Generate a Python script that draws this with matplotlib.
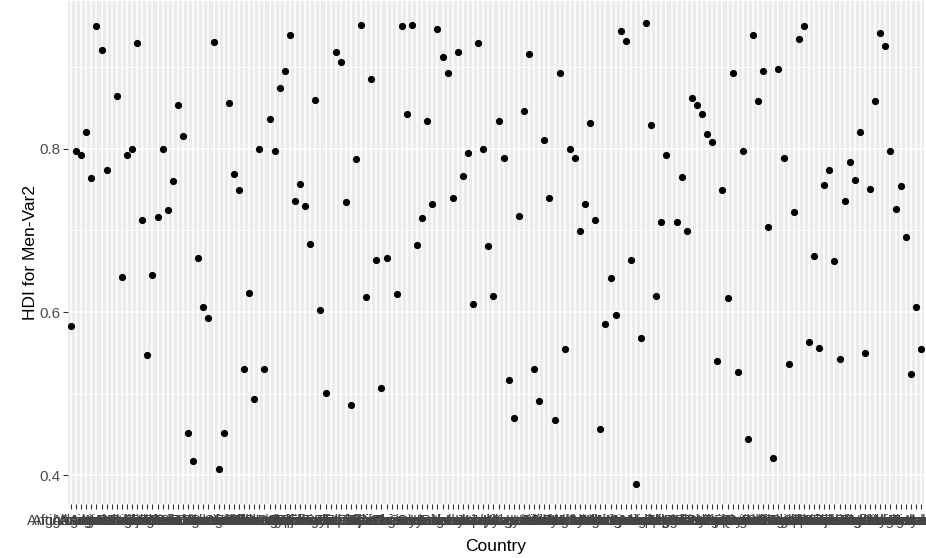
import numpy as np
import matplotlib
matplotlib.use("Agg")
import matplotlib.pyplot as plt
from matplotlib.ticker import MultipleLocator

# countries on the x axis (alphabetical, as in the source data)
countries = [
    "Afghanistan", "Albania", "Algeria", "Andorra", "Angola", "Antigua and Barbuda",
    "Argentina", "Armenia", "Australia", "Austria", "Azerbaijan", "Bahamas", "Bahrain",
    "Bangladesh", "Barbados", "Belarus", "Belgium", "Belize", "Benin", "Bhutan",
    "Bolivia", "Bosnia and Herzegovina", "Botswana", "Brazil", "Brunei Darussalam",
    "Bulgaria", "Burkina Faso", "Burundi", "Cabo Verde", "Cambodia", "Cameroon",
    "Canada", "Central African Republic", "Chad", "Chile", "China", "Colombia",
    "Comoros", "Congo", "Costa Rica", "Cote d'Ivoire", "Croatia", "Cuba", "Cyprus",
    "Czechia", "Denmark", "Djibouti", "Dominican Republic", "Ecuador", "Egypt",
    "El Salvador", "Equatorial Guinea", "Eritrea", "Estonia", "Eswatini", "Ethiopia",
    "Fiji", "Finland", "France", "Gabon", "Gambia", "Georgia", "Germany", "Ghana",
    "Greece", "Grenada", "Guatemala", "Guinea", "Guinea-Bissau", "Guyana", "Haiti",
    "Honduras", "Hungary", "Iceland", "India", "Indonesia", "Iran",
    "Iraq", "Ireland", "Israel", "Italy", "Jamaica", "Japan", "Jordan", "Kazakhstan",
    "Kenya", "Korea", "Kuwait", "Kyrgyzstan", "Lao PDR", "Latvia", "Lebanon",
    "Lesotho", "Liberia", "Libya", "Lithuania", "Luxembourg", "Madagascar", "Malawi",
    "Malaysia", "Maldives", "Mali", "Malta", "Mauritania", "Mauritius", "Mexico",
    "Moldova", "Mongolia", "Montenegro", "Morocco", "Mozambique", "Myanmar",
    "Namibia", "Nepal", "Netherlands", "New Zealand", "Nicaragua", "Niger", "Nigeria",
    "North Macedonia", "Norway", "Oman", "Pakistan", "Palestine", "Panama",
    "Papua New Guinea", "Paraguay", "Peru", "Philippines", "Poland", "Portugal",
    "Qatar", "Romania", "Russian Federation", "Rwanda", "Saint Lucia", "Samoa",
    "Saudi Arabia", "Senegal", "Serbia", "Sierra Leone", "Singapore", "Slovakia",
    "Slovenia", "South Africa", "Spain", "Sri Lanka", "Sudan", "Suriname", "Sweden",
    "Switzerland", "Tajikistan", "Tanzania", "Thailand", "Togo", "Tunisia", "Turkey",
    "Uganda", "Ukraine", "United Kingdom", "United States", "Uruguay", "Uzbekistan",
    "Venezuela", "Viet Nam", "Yemen", "Zambia", "Zimbabwe",
]

# HDI for men (Var2), nan = missing value
nan = np.nan
hdi_men = [
    0.583, 0.797, 0.792, 0.820, 0.764, 0.950, 0.921, 0.774, nan, 0.865,
    0.643, 0.792, 0.800, 0.929, 0.713, 0.547, 0.645, 0.717, 0.800, 0.725,
    0.761, 0.854, 0.816, 0.452, 0.418, 0.666, 0.606, 0.593, 0.931, 0.408,
    0.452, 0.856, 0.769, 0.749, 0.530, 0.624, 0.493, 0.800, 0.530, 0.836,
    0.797, 0.875, 0.895, 0.939, 0.736, 0.757, 0.730, 0.684, 0.860, 0.602,
    0.501, nan, 0.918, 0.906, 0.735, 0.486, 0.787, 0.952, 0.619, 0.885,
    0.664, 0.507, 0.666, nan, 0.622, 0.950, 0.843, 0.952, 0.682, 0.715,
    0.834, 0.733, 0.947, 0.913, 0.893, 0.740, 0.918, 0.767, 0.795, 0.610,
    0.929, 0.800, 0.681, 0.620, 0.834, 0.789, 0.517, 0.470, 0.718, 0.846,
    0.916, 0.530, 0.491, 0.811, 0.740, 0.468, 0.893, 0.555, 0.800, 0.789,
    0.699, 0.733, 0.831, 0.713, 0.457, 0.586, 0.642, 0.597, 0.944, 0.932,
    0.664, 0.390, 0.568, 0.954, 0.829, 0.620, 0.710, 0.792, nan, 0.710,
    0.766, 0.699, 0.862, 0.854, 0.843, 0.818, 0.808, 0.540, 0.749, 0.617,
    0.893, 0.527, 0.797, 0.445, 0.939, 0.859, 0.895, 0.704, 0.421, 0.898,
    0.789, 0.537, 0.723, 0.934, 0.950, 0.563, 0.669, 0.556, 0.756, 0.774,
    0.663, 0.542, 0.736, 0.784, 0.762, 0.820, 0.550, 0.751, 0.859, 0.942,
    0.926, 0.797, 0.726, 0.754, 0.692, 0.524, 0.606, 0.555,
]

plt.rcParams['font.family'] = ['Liberation Sans', 'DejaVu Sans']

fig = plt.figure(figsize=(9.26, 5.58), dpi=100)
ax = fig.add_axes([68 / 926, 1 - 504 / 558, 856 / 926, 503 / 558])

x = np.arange(len(countries))
ax.set_facecolor('#EBEBEB')
ax.set_axisbelow(True)
ax.scatter(x, hdi_men, s=27, color='black', linewidths=0, zorder=3)

ax.set_xlim(-0.6, len(countries) - 0.4)
ax.set_ylim(0.365, 0.981)
ax.set_xticks(x)
ax.set_xticklabels(countries, fontsize=10.5, color='#444444')
ax.yaxis.set_major_locator(MultipleLocator(0.2))
ax.yaxis.set_minor_locator(MultipleLocator(0.1))
ax.set_yticks([0.4, 0.6, 0.8])
ax.set_yticklabels(['0.4', '0.6', '0.8'], fontsize=11, color='#4D4D4D')

ax.grid(which='major', axis='both', color='white', linewidth=1.1)
ax.grid(which='minor', axis='y', color='white', linewidth=0.55)
ax.tick_params(axis='both', which='major', length=3.6, width=0.8, color='#333333', pad=2)
ax.tick_params(axis='x', which='major', pad=3.5)
ax.tick_params(axis='y', which='minor', length=0)
for s in ax.spines.values():
    s.set_visible(False)

ax.set_xlabel('Country', fontsize=12.5, color='black', labelpad=8)
ax.set_ylabel('HDI for Men-Var2', fontsize=12.5, color='black', labelpad=1)

plt.savefig('out.png', dpi=100)
plt.close()
